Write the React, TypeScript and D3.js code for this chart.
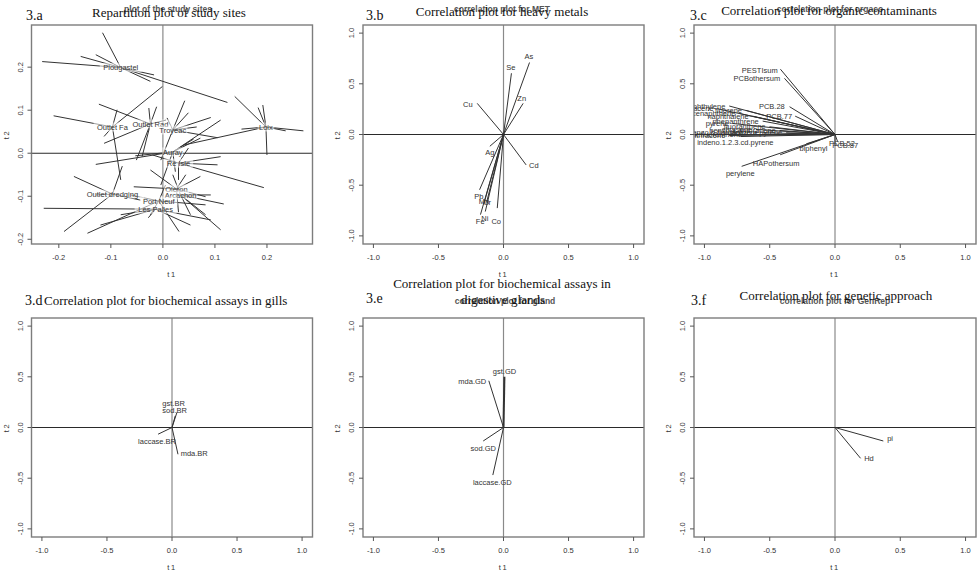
import React from 'react';
import * as d3 from 'd3';

// ---- 3.a : study sites, each sample joined to its site centre ----
const siteNames = [
  'Plougastel', 'Outlet Fa', 'Outlet Rad', 'Troyeac', 'Auray', 'Ré Isle',
  'Loix', 'Outlet dredging', 'Oleron', 'Arcachon', 'Port Neuf', 'Les Palles',
];
const siteCentreT1 = [-0.081, -0.097, -0.024, 0.019, 0.019, 0.03, 0.198, -0.097, 0.026, 0.034, -0.008, -0.014];
const siteCentreT2 = [0.199, 0.061, 0.068, 0.054, 0.003, -0.023, 0.061, -0.095, -0.083, -0.097, -0.111, -0.13];
const siteSamples: [number, number][][] = [
  [[-0.116, 0.28], [-0.232, 0.213], [-0.158, 0.225], [-0.129, 0.229], [0.124, 0.118], [-0.017, 0.182], [-0.024, 0.167]],
  [[-0.21, 0.087], [-0.088, 0.101], [-0.081, -0.062], [-0.113, 0.039], [-0.001, 0.155]],
  [[-0.123, 0.114], [-0.113, 0.023], [-0.027, 0.105], [-0.012, 0.108], [-0.04, -0.008], [-0.051, -0.016], [0.006, 0.077]],
  [[0.042, 0.122], [0.092, 0.083], [0.105, 0.036], [0.008, 0.082], [0.049, 0.094], [-0.004, -0.016], [0.065, 0.061]],
  [[-0.129, -0.026], [-0.053, -0.006], [0.072, 0.035], [0.111, 0.077], [0.059, 0.033], [-0.004, -0.074], [0.024, -0.043]],
  [[0.194, -0.08], [0.111, -0.008], [0.105, -0.027], [-0.02, -0.004], [0.03, -0.062], [0.049, 0.012]],
  [[0.138, 0.132], [0.183, 0.106], [0.192, 0.112], [0.27, 0.052], [0.236, 0.052], [0.2, -0.004], [0.151, 0.056], [0.04, 0.019]],
  [[-0.171, -0.054], [-0.19, -0.182], [-0.078, -0.03], [-0.129, -0.097], [-0.043, -0.109]],
  [[-0.056, -0.078], [0.072, -0.054], [0.082, -0.101], [-0.024, -0.039], [0.044, -0.05], [0.03, -0.137]],
  [[0.117, -0.118], [0.111, -0.178], [0.082, -0.143], [0.053, -0.143], [0.092, -0.097], [0.019, -0.05]],
  [[-0.145, -0.186], [0.031, -0.182], [-0.024, -0.143], [0.082, -0.12], [-0.062, -0.097], [0.005, -0.074]],
  [[-0.229, -0.128], [-0.12, -0.167], [-0.028, -0.15], [0.053, -0.167], [0.092, -0.155], [-0.081, -0.143]],
];
const siteTicks = [-0.2, -0.1, 0.0, 0.1, 0.2];

// ---- 3.b : heavy metals ----
const metalNames = ['As', 'Se', 'Zn', 'Cu', 'Cd', 'Ag', 'Pb', 'Mn', 'Cr', 'Ni', 'Fe', 'Co'];
const metalT1 = [0.2, 0.061, 0.151, -0.202, 0.174, -0.105, -0.184, -0.15, -0.13, -0.14, -0.177, -0.048];
const metalT2 = [0.71, 0.604, 0.307, 0.307, -0.3, -0.116, -0.545, -0.68, -0.67, -0.76, -0.79, -0.726];
const metalLabelT1 = [0.195, 0.056, 0.14, -0.274, 0.233, -0.105, -0.19, -0.151, -0.126, -0.144, -0.179, -0.056];
const metalLabelT2 = [0.769, 0.66, 0.359, 0.294, -0.304, -0.181, -0.611, -0.658, -0.668, -0.825, -0.858, -0.858];

// ---- 3.c : organic contaminants (labels end at the given t1) ----
const organicNames = [
  'PESTIsum', 'PCBothersum', 'PCB.28', 'PCB.77', 'indeno.1.2.3.cd.pyrene', 'biphenyl',
  'HAPothersum', 'perylene', 'PCB.52', 'PCB.87',
  'acenaphthylene', 'anthracene', 'fluorene', 'acenaphthene', 'naphthalene', 'phenanthrene',
  'pyrene', 'fluoranthene', 'chrysene', 'benzo.a.anthracene', 'benzo.a.pyrene',
  'benzo.b.fluoranthene', 'benzo.k.fluoranthene', 'dibenzo.a.h.anthracene',
];
const organicT1 = [
  -0.418, -0.387, -0.348, -0.305, -0.72, -0.22, -0.42, -0.715, 0.0, 0.02,
  -0.81, -0.9, -0.682, -0.733, -0.631, -0.554, -0.785, -0.502, -0.605, -0.425, -0.374, -0.554, -0.682, -0.81,
];
const organicT2 = [
  0.644, 0.554, 0.274, 0.181, -0.02, -0.092, -0.2, -0.314, -0.08, -0.07,
  0.281, 0.254, 0.238, 0.208, 0.181, 0.132, 0.109, 0.076, 0.05, 0.04, 0.017, 0.017, 0.0, -0.01,
];
const organicLabelT1 = [
  -0.439, -0.42, -0.385, -0.328, -0.471, -0.058, -0.272, -0.615, 0.152, 0.177,
  -0.84, -0.93, -0.712, -0.763, -0.661, -0.584, -0.815, -0.532, -0.635, -0.455, -0.404, -0.584, -0.712, -0.84,
];
const organicLabelT2 = [
  0.637, 0.551, 0.274, 0.175, -0.076, -0.132, -0.28, -0.388, -0.083, -0.106,
  0.281, 0.254, 0.238, 0.208, 0.181, 0.132, 0.109, 0.076, 0.05, 0.04, 0.017, 0.017, 0.0, -0.01,
];

// ---- 3.d : biochemical assays in gills ----
const gillNames = ['gst.BR', 'sod.BR', 'laccase.BR', 'mda.BR'];
const gillT1 = [0.038, 0.025, -0.107, 0.046];
const gillT2 = [0.149, 0.115, -0.066, -0.264];
const gillLabelT1 = [0.012, 0.02, -0.115, 0.171];
const gillLabelT2 = [0.24, 0.164, -0.139, -0.257];

// ---- 3.e : biochemical assays in digestive glands ----
const glandNames = ['gst.GD', 'mda.GD', 'sod.GD', 'laccase.GD'];
const glandT1 = [0.007, -0.113, -0.156, -0.082];
const glandT2 = [0.5, 0.461, -0.133, -0.469];
const glandLabelT1 = [0.008, -0.24, -0.156, -0.086];
const glandLabelT2 = [0.558, 0.452, -0.205, -0.545];

// ---- 3.f : genetic approach ----
const geneNames = ['pi', 'Hd'];
const geneT1 = [0.37, 0.196];
const geneT2 = [-0.133, -0.304];
const geneLabelT1 = [0.422, 0.26];
const geneLabelT2 = [-0.109, -0.304];

const corTicks = [-1.0, -0.5, 0.0, 0.5, 1.0];

const SERIF = "'Liberation Serif', 'Times New Roman', serif";
const SANS = "'Liberation Sans', Arial, sans-serif";
const fmt = d3.formatLocale({ decimal: '.', thousands: ',', grouping: [3], currency: ['', ''], minus: '-' }).format('.1f');

const cols = [
  { left: 31.5, right: 312.5 },
  { left: 363, right: 644 },
  { left: 694, right: 976 },
];
const rows = [
  { top: 25, bottom: 244 },
  { top: 318, bottom: 537 },
];

type Scale = d3.ScaleLinear<number, number>;
type Box = { left: number; right: number; top: number; bottom: number };

function Frame({ id, box, xDomain, yDomain, ticks, children }: {
  id: string; box: Box; xDomain: [number, number]; yDomain: [number, number]; ticks: number[];
  children: (x: Scale, y: Scale) => React.ReactNode;
}) {
  const x = d3.scaleLinear().domain(xDomain).range([box.left, box.right]);
  const y = d3.scaleLinear().domain(yDomain).range([box.bottom, box.top]);
  const midX = (box.left + box.right) / 2;
  const midY = (box.top + box.bottom) / 2;
  return (
    <g>
      <defs>
        <clipPath id={id}>
          <rect x={box.left} y={box.top} width={box.right - box.left} height={box.bottom - box.top} />
        </clipPath>
      </defs>
      <g clipPath={`url(#${id})`}>
        <line x1={x(0)} x2={x(0)} y1={box.top} y2={box.bottom} stroke="#8a8a8a" strokeWidth={1.2} />
        <line x1={box.left} x2={box.right} y1={y(0)} y2={y(0)} stroke="#2a2a2a" strokeWidth={1.1} />
        {children(x, y)}
      </g>
      <rect x={box.left} y={box.top} width={box.right - box.left} height={box.bottom - box.top}
        fill="none" stroke="#7d7d7d" strokeWidth={1.4} />
      {ticks.map(t => (
        <g key={`x${t}`}>
          <line x1={x(t)} x2={x(t)} y1={box.bottom} y2={box.bottom + 4} stroke="#555" />
          <text x={x(t)} y={box.bottom + 16} textAnchor="middle" fontSize={7.5} fontFamily={SANS} fill="#333">{fmt(t)}</text>
        </g>
      ))}
      {ticks.map(t => (
        <g key={`y${t}`}>
          <line x1={box.left} x2={box.left - 4} y1={y(t)} y2={y(t)} stroke="#555" />
          <text transform={`translate(${box.left - 9},${y(t)}) rotate(-90)`} textAnchor="middle"
            fontSize={7.5} fontFamily={SANS} fill="#333">{fmt(t)}</text>
        </g>
      ))}
      <text x={midX} y={box.bottom + 33} textAnchor="middle" fontSize={7.5} fontFamily={SANS} fill="#333" letterSpacing={1.5}>t1</text>
      <text transform={`translate(${box.left - 23},${midY}) rotate(-90)`} textAnchor="middle"
        fontSize={7.5} fontFamily={SANS} fill="#333" letterSpacing={1.5}>t2</text>
    </g>
  );
}

function Arrows({ x, y, names, t1, t2, lt1, lt2, anchor, thick }: {
  x: Scale; y: Scale; names: string[]; t1: number[]; t2: number[]; lt1: number[]; lt2: number[];
  anchor: 'middle' | 'end'; thick?: string[];
}) {
  return (
    <g>
      {names.map((n, i) => (
        <line key={`l${n}`} x1={x(0)} y1={y(0)} x2={x(t1[i])} y2={y(t2[i])}
          stroke="#333" strokeWidth={thick && thick.includes(n) ? 2 : 1} />
      ))}
      {names.map((n, i) => (
        <text key={`t${n}`} x={x(lt1[i])} y={y(lt2[i])} dy="0.35em" textAnchor={anchor}
          fontSize={7.5} fontFamily={SANS} fill="#333">{n}</text>
      ))}
    </g>
  );
}

const corDomain: [number, number] = [-1.08, 1.08];

export default function App() {
  return (
    <div style={{ position: 'absolute', left: 0, top: 0, background: '#fff', transform: 'translateZ(0)' }}>
      <svg width={980} height={575} viewBox="0 0 980 575">
        <rect width={980} height={575} fill="#fff" />

        {/* 3.a */}
        <Frame id="pa" box={{ ...cols[0], ...rows[0] }} xDomain={[-0.2525, 0.2875]} yDomain={[-0.211, 0.298]} ticks={siteTicks}>
          {(x, y) => (
            <g>
              {siteSamples.map((pts, g) => pts.map((p, k) => (
                <line key={`${g}-${k}`} x1={x(siteCentreT1[g])} y1={y(siteCentreT2[g])} x2={x(p[0])} y2={y(p[1])}
                  stroke="#333" strokeWidth={1} />
              )))}
              {siteNames.map((n, g) => (
                <g key={n}>
                  <rect x={x(siteCentreT1[g]) - n.length * 2.1} y={y(siteCentreT2[g]) - 4.5}
                    width={n.length * 4.2} height={9} fill="#fff" opacity={0.55} />
                  <text x={x(siteCentreT1[g])} y={y(siteCentreT2[g])} dy="0.35em" textAnchor="middle"
                    fontSize={7.5} fontFamily={SANS} fill="#333">{n}</text>
                </g>
              ))}
            </g>
          )}
        </Frame>

        {/* 3.b */}
        <Frame id="pb" box={{ ...cols[1], ...rows[0] }} xDomain={corDomain} yDomain={corDomain} ticks={corTicks}>
          {(x, y) => <Arrows x={x} y={y} names={metalNames} t1={metalT1} t2={metalT2} lt1={metalLabelT1} lt2={metalLabelT2} anchor="middle" />}
        </Frame>

        {/* 3.c */}
        <Frame id="pc" box={{ ...cols[2], ...rows[0] }} xDomain={corDomain} yDomain={corDomain} ticks={corTicks}>
          {(x, y) => <Arrows x={x} y={y} names={organicNames} t1={organicT1} t2={organicT2} lt1={organicLabelT1} lt2={organicLabelT2} anchor="end" />}
        </Frame>

        {/* 3.d */}
        <Frame id="pd" box={{ ...cols[0], ...rows[1] }} xDomain={corDomain} yDomain={corDomain} ticks={corTicks}>
          {(x, y) => <Arrows x={x} y={y} names={gillNames} t1={gillT1} t2={gillT2} lt1={gillLabelT1} lt2={gillLabelT2} anchor="middle" />}
        </Frame>

        {/* 3.e */}
        <Frame id="pe" box={{ ...cols[1], ...rows[1] }} xDomain={corDomain} yDomain={corDomain} ticks={corTicks}>
          {(x, y) => <Arrows x={x} y={y} names={glandNames} t1={glandT1} t2={glandT2} lt1={glandLabelT1} lt2={glandLabelT2} anchor="middle" thick={['gst.GD']} />}
        </Frame>

        {/* 3.f */}
        <Frame id="pf" box={{ ...cols[2], ...rows[1] }} xDomain={corDomain} yDomain={corDomain} ticks={corTicks}>
          {(x, y) => <Arrows x={x} y={y} names={geneNames} t1={geneT1} t2={geneT2} lt1={geneLabelT1} lt2={geneLabelT2} anchor="middle" />}
        </Frame>

        {/* titles left by the plotting device */}
        <g fontFamily={SANS} fontSize={8.5} fontWeight={700} fill="#555" textAnchor="middle">
          <text x={168} y={12}>plot of the study sites</text>
          <text x={502} y={12}>correlation plot for MET</text>
          <text x={830} y={12}>correlation plot for orgaco</text>
          <text x={505} y={304}>correlation plot for gland</text>
          <text x={835} y={304}>correlation plot for GenRep</text>
        </g>

        {/* panel headings */}
        <g fontFamily={SERIF} fill="#111">
          <text x={26} y={20} fontSize={14}>3.a</text>
          <text x={169} y={17} fontSize={13} textAnchor="middle">Repartition plot of study sites</text>
          <text x={366} y={20} fontSize={14}>3.b</text>
          <text x={502} y={16} fontSize={13} textAnchor="middle">Correlation plot for heavy metals</text>
          <text x={690} y={20} fontSize={14}>3.c</text>
          <text x={829} y={15} fontSize={13} textAnchor="middle">Correlation plot for organic contaminants</text>
          <text x={25} y={305} fontSize={14}>3.d</text>
          <text x={44} y={305} fontSize={13}>Correlation plot for biochemical assays in gills</text>
          <text x={502} y={288} fontSize={13} textAnchor="middle">Correlation plot for biochemical assays in</text>
          <text x={366} y={303} fontSize={14}>3.e</text>
          <text x={503} y={304} fontSize={13} textAnchor="middle">digestive glands</text>
          <text x={691} y={305} fontSize={14}>3.f</text>
          <text x={836} y={300} fontSize={13} textAnchor="middle">Correlation plot for genetic approach</text>
        </g>
      </svg>
    </div>
  );
}
